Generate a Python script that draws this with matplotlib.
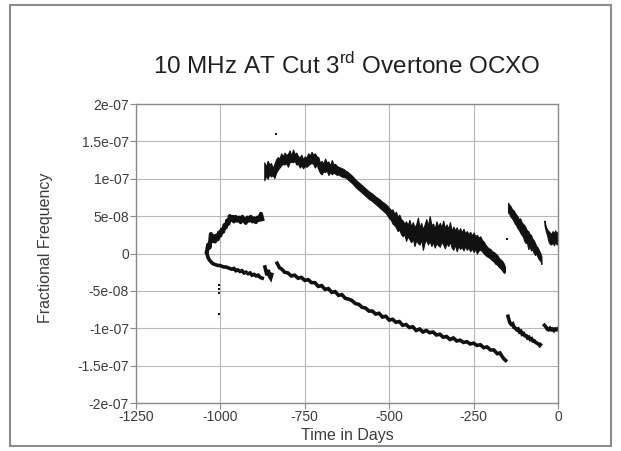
import matplotlib
matplotlib.use('Agg')
import matplotlib.pyplot as plt
from matplotlib.patches import Rectangle
from matplotlib.ticker import FixedLocator, FuncFormatter

plt.rcParams['font.family'] = ['Liberation Sans', 'DejaVu Sans']
plt.rcParams['mathtext.fontset'] = 'custom'
plt.rcParams['mathtext.rm'] = 'Liberation Sans'
plt.rcParams['axes.unicode_minus'] = False

SCALE = 1e-8  # values below are in units of 1e-8

# early upper branch after turn-on
early_up_days = [-1040, -1036, -1032, -1028, -1024, -1020, -1016, -1012, -1008, -1004,
                 -1000, -996, -992, -988, -984, -980, -976, -972, -968, -964, -960,
                 -955, -950, -945, -940, -935, -930, -925, -920, -915, -910, -905,
                 -900, -895, -890, -885, -880, -876]
early_up_vals = [0.2, 1.2, 0.8, 2.6, 1.7, 2.3, 1.6, 2.4, 1.9, 2.8,
                 2.4, 3.2, 2.9, 3.8, 3.5, 4.4, 4.0, 5.0, 4.5, 4.9, 4.3,
                 4.9, 4.4, 4.8, 4.2, 4.9, 4.5, 4.1, 4.8, 4.4, 4.9, 4.3,
                 4.7, 4.2, 4.8, 4.5, 5.3, 4.6]

# early lower branch
early_lo_days = [-1040, -1036, -1032, -1028, -1024, -1020, -1014, -1008, -1002, -996,
                 -990, -984, -978, -972, -966, -960, -954, -948, -942, -936, -930,
                 -924, -918, -912, -906, -900, -894, -888, -882, -876]
early_lo_vals = [0.0, -0.6, -0.9, -1.1, -1.3, -1.4, -1.5, -1.6, -1.6, -1.7,
                 -1.8, -1.8, -1.9, -2.0, -2.1, -2.0, -2.3, -2.2, -2.4, -2.3, -2.6,
                 -2.5, -2.7, -2.6, -2.9, -2.8, -3.0, -2.9, -3.2, -3.3]

blip_days = [-868, -865, -862, -858, -855, -851, -848]
blip_vals = [-1.8, -2.4, -2.9, -2.2, -3.0, -3.3, -2.8]

# long lower branch
lower_days = [-832, -825, -818, -810, -800, -790, -780, -770, -760, -750, -740, -730,
              -720, -710, -700, -690, -680, -670, -660, -650, -640, -630, -620, -610,
              -600, -590, -580, -570, -560, -550, -540, -530, -520, -510, -500, -490,
              -480, -470, -460, -450, -440, -430, -420, -410, -400, -390, -380, -370,
              -360, -350, -340, -330, -320, -310, -300, -290, -280, -270, -260, -250,
              -240, -230, -220, -210, -200, -190, -180, -172, -165, -160, -155]
lower_vals = [-1.3, -1.9, -2.1, -2.5, -2.6, -3.0, -2.9, -3.3, -3.2, -3.6, -3.5, -3.9,
              -3.9, -4.4, -4.3, -4.8, -4.7, -5.2, -5.1, -5.6, -5.5, -6.0, -6.1, -6.3,
              -6.7, -6.8, -7.2, -7.3, -7.7, -7.7, -8.1, -8.0, -8.5, -8.4, -8.9, -8.8,
              -9.2, -9.1, -9.6, -9.5, -9.9, -9.8, -10.3, -10.1, -10.5, -10.3, -10.6, -10.5,
              -10.9, -10.8, -11.2, -11.1, -11.5, -11.3, -11.7, -11.6, -11.9, -11.8, -12.1, -12.0,
              -12.3, -12.2, -12.6, -12.5, -12.9, -12.9, -13.4, -13.3, -13.8, -14.1, -14.3]

# long upper branch (noisy band: low / high edges)
upper_days = [-870, -865, -860, -855, -850, -845, -840, -835, -830, -825, -820, -815,
              -810, -805, -800, -795, -790, -785, -780, -775, -770, -765, -760, -755,
              -750, -745, -740, -735, -730, -725, -720, -715, -710, -705, -700, -695,
              -690, -685, -680, -675, -670, -665, -660, -655, -650, -645, -640, -635,
              -630, -625, -620, -610, -600, -590, -580, -570, -560, -550, -540, -530,
              -520, -510, -500, -495, -490, -485, -480, -475, -470, -465, -460, -455,
              -450, -445, -440, -435, -430, -425, -420, -415, -410, -405, -400, -395,
              -390, -385, -380, -375, -370, -365, -360, -355, -350, -345, -340, -335,
              -330, -325, -320, -315, -310, -305, -300, -295, -290, -285, -280, -275,
              -270, -265, -260, -255, -250, -245, -240, -235, -230, -225, -220, -215,
              -210, -205, -200, -195, -190, -185, -180, -175, -170, -165, -160, -157]
upper_low = [9.8, 10.4, 10.0, 10.6, 10.3, 10.5, 10.1, 10.8, 11.2, 11.5, 11.8, 12.0,
             11.9, 12.1, 11.6, 12.2, 12.3, 12.2, 12.4, 11.9, 12.0, 11.5, 11.8, 11.4,
             11.7, 11.6, 11.8, 12.0, 12.1, 12.0, 11.5, 11.9, 11.3, 10.8, 10.6, 11.0,
             10.9, 11.1, 10.5, 10.9, 10.6, 10.8, 10.7, 10.5, 10.6, 10.4, 10.3, 10.2,
             10.2, 10.0, 9.8, 9.4, 8.9, 8.5, 8.1, 7.7, 7.3, 7.0, 6.6, 6.2,
             5.8, 5.4, 4.7, 4.5, 4.0, 3.8, 3.5, 3.0, 3.2, 2.6, 2.3, 2.6,
             1.7, 2.3, 1.9, 1.5, 2.0, 1.0, 1.8, 1.4, 1.2, 1.9, 0.5, 1.5,
             1.8, 1.2, 1.7, 1.0, 1.5, 0.8, 1.4, 1.1, 0.9, 1.6, 1.2, 0.7,
             1.4, 1.0, 1.6, 0.8, 0.5, 1.2, 0.3, 1.0, 0.6, 0.9, 0.4, 1.0,
             0.5, 0.8, 0.3, 0.7, 0.2, 0.6, 0.0, 0.4, 0.5, 0.3, 0.0, -0.2,
             -0.4, -0.5, -0.7, -0.9, -1.1, -1.4, -1.5, -1.8, -2.0, -2.3, -2.6, -2.5]
upper_high = [12.2, 11.6, 12.4, 11.9, 12.1, 11.4, 12.0, 12.6, 12.9, 12.7, 13.4, 13.0,
              13.5, 13.2, 13.3, 13.8, 13.1, 13.9, 13.3, 13.5, 13.0, 12.9, 13.2, 12.6,
              13.0, 12.8, 13.4, 13.1, 13.6, 13.2, 13.4, 13.0, 12.9, 12.1, 12.4, 12.0,
              12.7, 12.2, 12.3, 11.8, 12.5, 11.9, 12.0, 11.7, 11.6, 11.5, 11.4, 11.3,
              11.1, 11.0, 10.8, 10.4, 9.9, 9.5, 9.1, 8.7, 8.3, 8.0, 7.6, 7.3,
              6.9, 6.6, 6.1, 5.8, 5.9, 5.3, 5.6, 4.9, 5.2, 4.6, 4.4, 4.0,
              4.3, 3.8, 4.5, 3.6, 4.2, 3.5, 3.9, 4.8, 3.5, 4.1, 3.2, 3.9,
              4.6, 3.7, 5.0, 3.8, 4.0, 3.3, 4.3, 3.6, 4.1, 3.5, 4.4, 3.4,
              3.9, 3.3, 4.2, 3.0, 3.6, 3.1, 3.5, 2.9, 3.4, 2.8, 3.3, 2.7,
              3.0, 2.6, 2.9, 2.4, 2.8, 2.3, 2.5, 2.1, 2.3, 1.8, 1.6, 1.2,
              0.9, 0.7, 0.6, 0.3, 0.2, 0.0, -0.2, -0.6, -0.8, -1.0, -1.4, -1.8]

# restart segments near the end
late_up_days = [-148, -144, -140, -136, -132, -128, -124, -120, -116, -112, -108, -104,
                -100, -96, -92, -88, -84, -80, -76, -72, -68, -64, -60, -56, -52, -49]
late_up_low = [5.5, 5.3, 4.9, 4.7, 4.4, 4.0, 3.8, 3.4, 3.2, 2.8, 2.5, 2.3,
               1.7, 1.4, 1.5, 0.6, 1.0, 0.4, 0.6, 0.1, -0.2, 0.0, -0.5, -0.8, -1.0, -1.4]
late_up_high = [6.8, 6.5, 6.3, 5.9, 5.8, 5.5, 5.2, 5.0, 4.6, 4.7, 4.2, 4.0,
                3.8, 3.5, 3.1, 3.0, 2.6, 2.5, 2.0, 1.8, 1.4, 1.0, 0.8, 0.4, 0.0, -0.4]

last_up_days = [-40, -36, -32, -28, -24, -20, -16, -12, -8, -4, -1]
last_up_low = [3.8, 3.0, 2.4, 1.6, 1.3, 1.2, 1.5, 1.1, 1.6, 1.2, 1.4]
last_up_high = [4.4, 3.6, 3.2, 3.0, 2.8, 2.6, 3.0, 2.7, 3.1, 2.6, 2.9]

late_lo_days = [-148, -145, -142, -138, -134, -130, -126, -122, -118, -114, -110, -106,
                -102, -98, -94, -90, -86, -82, -78, -74, -70, -66, -62, -58, -54, -52]
late_lo_vals = [-8.4, -8.9, -9.3, -9.5, -9.4, -9.9, -10.0, -10.2, -10.1, -10.5, -10.4, -10.8,
                -10.7, -11.0, -11.0, -11.3, -11.2, -11.5, -11.4, -11.7, -11.7, -11.9, -12.0,
                -12.1, -12.3, -12.2]

last_lo_days = [-40, -36, -32, -28, -24, -20, -16, -12, -8, -4, -1]
last_lo_vals = [-9.6, -9.8, -10.1, -10.2, -10.0, -10.2, -10.1, -10.3, -10.1, -10.2, -10.1]

# stray points
stray_days = [-1005, -1005, -1005, -1004, -835, -152]
stray_vals = [-4.2, -4.8, -5.3, -8.1, 16.0, 2.0]

x_ticks = [-1250, -1000, -750, -500, -250, 0]
y_ticks = [-2e-07, -1.5e-07, -1e-07, -5e-08, 0, 5e-08, 1e-07, 1.5e-07, 2e-07]


def scaled(vals):
    return [v * SCALE for v in vals]


fig = plt.figure(figsize=(6.21, 4.51), dpi=100)
ax = fig.add_axes([0.219, 0.1064, 0.6795, 0.663])

ink = '#111111'
ax.plot(early_up_days, scaled(early_up_vals), color=ink, lw=3.0)
for d, v in [(early_lo_days, early_lo_vals), (blip_days, blip_vals),
             (lower_days, lower_vals), (late_lo_days, late_lo_vals),
             (last_lo_days, last_lo_vals)]:
    ax.plot(d, scaled(v), color=ink, lw=2.6, solid_joinstyle='miter')

for d, lo, hi in [(upper_days, upper_low, upper_high),
                  (late_up_days, late_up_low, late_up_high),
                  (last_up_days, last_up_low, last_up_high)]:
    ax.fill_between(d, scaled(lo), scaled(hi), color=ink, lw=0.8, edgecolor=ink)

ax.plot(stray_days, scaled(stray_vals), 's', color=ink, ms=1.5, mew=0)

ax.set_xlim(-1250, 0)
ax.set_ylim(-2e-07, 2e-07)
ax.xaxis.set_major_locator(FixedLocator(x_ticks))
ax.yaxis.set_major_locator(FixedLocator(y_ticks))
ax.yaxis.set_major_formatter(FuncFormatter(lambda v, p: f'{v:g}'))
ax.grid(True, color='#b8b8b8', lw=0.8)
ax.set_axisbelow(True)
for s in ax.spines.values():
    s.set_color('#8a8a8a')
    s.set_linewidth(1.0)
ax.tick_params(direction='out', length=4, width=0.8, color='#8a8a8a',
               labelcolor='#3c3c3c', labelsize=10, pad=1)

fig.text(0.558, 0.853, r'10 MHz AT Cut 3$^{\mathrm{rd}}$ Overtone OCXO',
         ha='center', va='center', fontsize=17.5, color='#202020')
fig.text(0.559, 0.034, 'Time in Days', ha='center', va='center',
         fontsize=11.5, color='#3c3c3c')
fig.text(0.074, 0.451, 'Fractional Frequency', ha='center', va='center',
         rotation=90, fontsize=11.5, color='#3c3c3c')

fig.patches.append(Rectangle((10 / 621, 1 - 446 / 451), 601 / 621, 441 / 451,
                             transform=fig.transFigure, fill=False,
                             edgecolor='#8c8c8c', lw=1.5))

fig.savefig('out.png', dpi=100)
